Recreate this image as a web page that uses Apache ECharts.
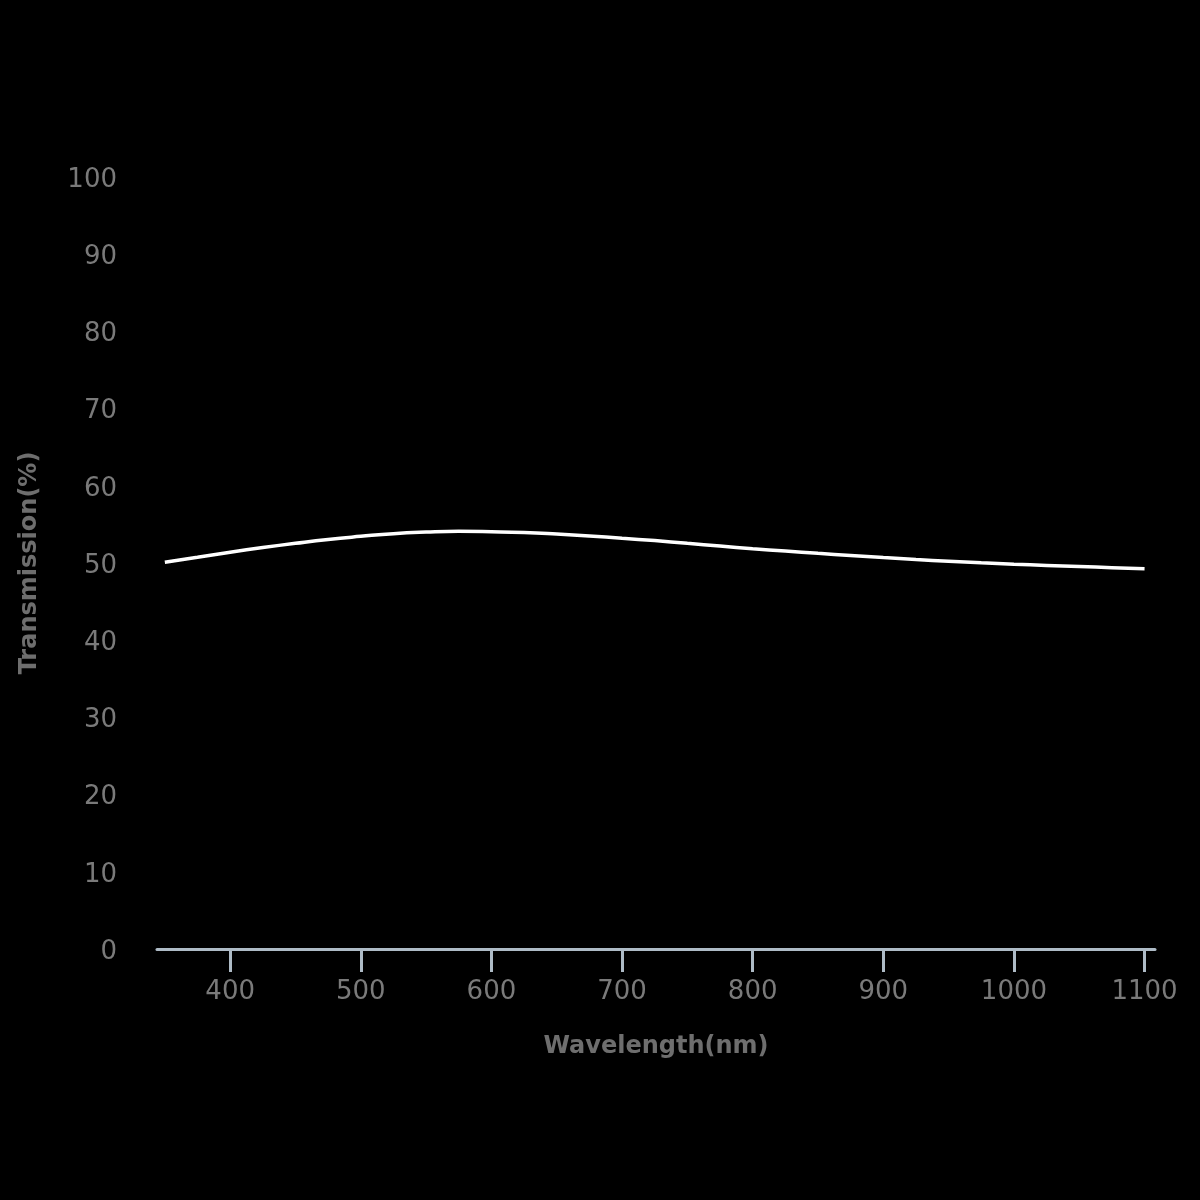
<!DOCTYPE html>
<html><head><meta charset="utf-8">
<script src="https://cdn.jsdelivr.net/npm/echarts@6/dist/echarts.min.js"></script>
<style>html,body{margin:0;padding:0;background:#000;}#c{width:1200px;height:1200px;}</style>
</head><body><div id="c"></div>
<script>
const wavelengths = [350,375,400,425,450,475,500,525,550,575,600,625,650,675,700,725,750,775,800,825,850,875,900,925,950,975,1000,1025,1050,1075,1100];
const transmission = [50.1,50.75,51.4,52.0,52.55,53.05,53.45,53.8,54.0,54.1,54.05,53.95,53.75,53.5,53.2,52.9,52.55,52.2,51.85,51.55,51.25,50.97,50.7,50.45,50.23,50.03,49.85,49.69,49.54,49.4,49.27];
const xTicks = [400,500,600,700,800,900,1000,1100];
const xTitle = 'Wavelength(nm)';
const yTitle = 'Transmission(%)';

const chart = echarts.init(document.getElementById('c'));
const font = 'DejaVu Sans';
chart.setOption({
  backgroundColor: '#000',
  animation: false,
  grid: {left: 157, right: 45, top: 177, bottom: 251},
  xAxis: {
    type: 'value', min: 344, max: 1108,
    name: xTitle, nameLocation: 'middle', nameGap: 86,
    nameTextStyle: {color: '#6e6e6e', fontSize: 24, fontWeight: 'bold', fontFamily: font},
    axisLine: {show: true, lineStyle: {color: '#aebbc6', width: 3}},
    axisTick: {show: true, length: 23, customValues: xTicks, lineStyle: {color: '#aebbc6', width: 3}},
    axisLabel: {customValues: xTicks, color: '#7a7a7a', fontSize: 26, fontFamily: font, margin: 30,
      formatter: v => String(v)},
    splitLine: {show: false}
  },
  yAxis: {
    type: 'value', min: 0, max: 100, interval: 10,
    name: yTitle, nameLocation: 'middle', nameGap: 115, nameRotate: 90,
    nameTextStyle: {color: '#6e6e6e', fontSize: 24, fontWeight: 'bold', fontFamily: font},
    axisLine: {show: false}, axisTick: {show: false},
    axisLabel: {color: '#7a7a7a', fontSize: 26, fontFamily: font, margin: 40,
      formatter: v => '{a|' + v + '}',
      rich: {a: {color: '#7a7a7a', fontSize: 26, fontFamily: font, padding: [6, 0, 0, 0]}}},
    splitLine: {show: false}
  },
  series: [{
    type: 'line', smooth: true, showSymbol: false,
    data: wavelengths.map((w, i) => [w, transmission[i]]),
    lineStyle: {color: '#ffffff', width: 3.5}
  }]
});
</script></body></html>
